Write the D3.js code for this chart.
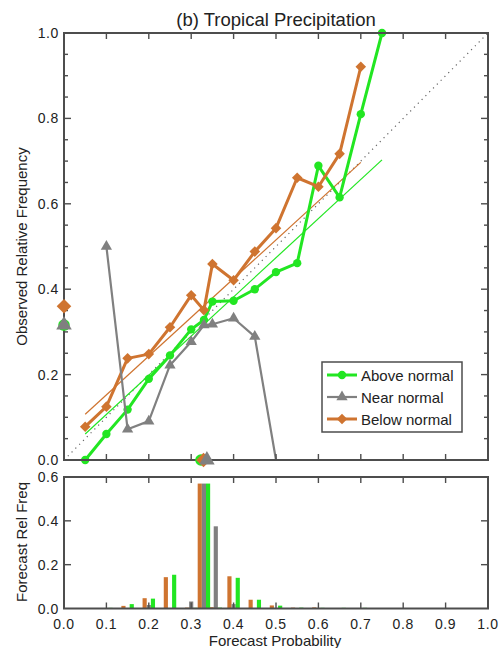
<!DOCTYPE html>
<html>
<head>
<meta charset="utf-8">
<script src="https://cdn.jsdelivr.net/npm/d3@7"></script>
<style>
  html, body { margin: 0; padding: 0; background: #fff; }
  svg text { font-family: "Liberation Sans", Arial, Helvetica, sans-serif; fill: #222; }
</style>
</head>
<body>
<svg id="chart" width="499" height="648"></svg>
<script>
// Forecast probability bins used by the reliability curves
const probBins = [0.05, 0.10, 0.15, 0.20, 0.25, 0.30, 0.33, 0.35, 0.40, 0.45, 0.50, 0.55, 0.60, 0.65, 0.70, 0.75];

// Observed relative frequency per bin (null = no forecasts in that bin)
const aboveObs = [0.0, 0.061, 0.118, 0.19, 0.245, 0.306, 0.328, 0.371, 0.373, 0.40, 0.44, 0.461, 0.689, 0.615, 0.81, 1.0];
const nearObs  = [null, 0.50, 0.072, 0.091, 0.222, 0.277, 0.316, 0.318, 0.332, 0.289, 0.0, null, null, null, null, null];
const belowObs = [0.078, 0.125, 0.238, 0.248, 0.311, 0.386, 0.351, 0.459, 0.421, 0.488, 0.543, 0.661, 0.64, 0.717, 0.921, null];

// Least-squares fit lines (endpoints in probability / frequency)
const aboveFit = [[0.05, 0.061], [0.75, 0.703]];
const belowFit = [[0.05, 0.107], [0.70, 0.697]];

// Climatology: observed frequency (y axis) and mean forecast probability (x axis)
const climObs  = { above: 0.316, near: 0.316, below: 0.36 };
const climProb = { above: 0.323, near: 0.337, below: 0.329 };

// Forecast relative frequency histogram
const histBins  = [0.05, 0.10, 0.15, 0.20, 0.25, 0.30, 0.33, 0.358, 0.40, 0.45, 0.50, 0.55, 0.60, 0.65, 0.70, 0.75];
const histAbove = [0, 0.003, 0.02, 0.045, 0.154, 0.003, 0.57, 0.004, 0.14, 0.04, 0.013, 0.004, 0.003, 0.003, 0.003, 0];
const histNear  = [0, 0, 0, 0.016, 0, 0.032, 0.57, 0.375, 0.02, 0, 0, 0, 0, 0, 0, 0];
const histBelow = [0, 0, 0.012, 0.047, 0.143, 0.004, 0.57, 0.006, 0.147, 0.04, 0.014, 0.004, 0.005, 0.002, 0, 0];

const xTicks = [0, 0.1, 0.2, 0.3, 0.4, 0.5, 0.6, 0.7, 0.8, 0.9, 1.0];
const yTicks = [0, 0.2, 0.4, 0.6, 0.8, 1.0];
const yMinorTicks = d3.range(0, 1.0001, 0.05);
const hTicks = [0, 0.2, 0.4, 0.6];

const seriesNames = ["Above normal", "Near normal", "Below normal"];
const colors = { above: "#22e622", near: "#808080", below: "#cf7430" };
const frameColor = "#4d4d4d";

const svg = d3.select("#chart");

const x  = d3.scaleLinear().domain([0, 1]).range([64, 488]);
const y  = d3.scaleLinear().domain([0, 1]).range([460, 33]);
const yh = d3.scaleLinear().domain([0, 0.6]).range([608.5, 477]);

// square diamond (equal width and height)
const squareDiamond = {
  draw(ctx, size) {
    const r = Math.sqrt(size / 2);
    ctx.moveTo(0, -r); ctx.lineTo(r, 0); ctx.lineTo(0, r); ctx.lineTo(-r, 0); ctx.closePath();
  }
};

const symType = { above: d3.symbolCircle, near: d3.symbolTriangle, below: squareDiamond };
const symSize = { above: 55, near: 55, below: 56 };
const sym = {};
const symBig = {};
Object.keys(symType).forEach(k => {
  sym[k] = d3.symbol().type(symType[k]).size(symSize[k]);
  symBig[k] = d3.symbol().type(symType[k]).size(symSize[k] * 1.9);
});

// ---------- title ----------
svg.append("text")
  .attr("x", 276).attr("y", 26)
  .attr("text-anchor", "middle")
  .attr("font-size", 18.5)
  .text("(b) Tropical Precipitation");

// ---------- reliability panel ----------
const main = svg.append("g");

// perfect reliability diagonal
main.append("line")
  .attr("x1", x(0)).attr("y1", y(0)).attr("x2", x(1)).attr("y2", y(1))
  .attr("stroke", "#666").attr("stroke-width", 1.2)
  .attr("stroke-dasharray", "1.2,4.2");

// fit lines
const fitLine = d3.line().x(d => x(d[0])).y(d => y(d[1]));
main.append("path").attr("d", fitLine(aboveFit))
  .attr("stroke", colors.above).attr("stroke-width", 1.2).attr("fill", "none");
main.append("path").attr("d", fitLine(belowFit))
  .attr("stroke", colors.below).attr("stroke-width", 1.2).attr("fill", "none");

const relLine = d3.line()
  .defined(d => d[1] !== null)
  .x(d => x(d[0])).y(d => y(d[1]));

const seriesList = [
  { key: "above", obs: aboveObs, width: 3 },
  { key: "below", obs: belowObs, width: 3 },
  { key: "near",  obs: nearObs,  width: 2.2 }
];

seriesList.forEach(s => {
  const pts = probBins.map((p, i) => [p, s.obs[i]]);
  main.append("path").attr("d", relLine(pts))
    .attr("stroke", colors[s.key]).attr("stroke-width", s.width)
    .attr("stroke-linejoin", "round").attr("fill", "none");
  // triangles resting on the bottom axis are hidden behind it
  const shown = pts.filter(d => d[1] !== null && !(s.key === "near" && d[1] === 0));
  main.selectAll(null).data(shown).join("path")
    .attr("d", sym[s.key])
    .attr("transform", d => `translate(${x(d[0])},${y(d[1])})`)
    .attr("fill", colors[s.key]);
});

// frame with inward x ticks on top and bottom
function frame(g, sy, ySpan) {
  g.append("rect")
    .attr("x", x(0)).attr("y", sy(ySpan))
    .attr("width", x(1) - x(0)).attr("height", sy(0) - sy(ySpan))
    .attr("fill", "none").attr("stroke", frameColor).attr("stroke-width", 2);
  xTicks.slice(1, -1).forEach(t => {
    g.append("line").attr("x1", x(t)).attr("x2", x(t))
      .attr("y1", sy(0)).attr("y2", sy(0) - 6)
      .attr("stroke", frameColor).attr("stroke-width", 1.4);
    g.append("line").attr("x1", x(t)).attr("x2", x(t))
      .attr("y1", sy(ySpan)).attr("y2", sy(ySpan) + 6)
      .attr("stroke", frameColor).attr("stroke-width", 1.4);
  });
}
frame(main, y, 1);

// minor / major y ticks on both sides
yMinorTicks.slice(1, -1).forEach(t => {
  const major = Math.abs(t * 5 - Math.round(t * 5)) < 1e-6;
  main.append("line").attr("x1", x(0)).attr("x2", x(0) + (major ? 7 : 4))
    .attr("y1", y(t)).attr("y2", y(t))
    .attr("stroke", frameColor).attr("stroke-width", 1.4);
  main.append("line").attr("x1", x(1)).attr("x2", x(1) - (major ? 7 : 4))
    .attr("y1", y(t)).attr("y2", y(t))
    .attr("stroke", frameColor).attr("stroke-width", 1.4);
});

main.selectAll(null).data(yTicks).join("text")
  .attr("x", 59).attr("y", d => y(d) + 5)
  .attr("text-anchor", "end").attr("font-size", 14)
  .attr("letter-spacing", 0.6)
  .text(d => d.toFixed(1));

main.append("text")
  .attr("transform", `translate(27,${(y(0) + y(1)) / 2}) rotate(-90)`)
  .attr("text-anchor", "middle").attr("font-size", 15)
  .text("Observed Relative Frequency");

// climatology markers on the axes
["above", "below", "near"].forEach(k => {
  main.append("path").attr("d", symBig[k])
    .attr("transform", `translate(${x(0)},${y(climObs[k])})`)
    .attr("fill", colors[k]);
});
["above", "below", "near"].forEach(k => {
  main.append("path").attr("d", symBig[k])
    .attr("transform", `translate(${x(climProb[k])},${y(0)})`)
    .attr("fill", colors[k]);
});

// legend
const legend = svg.append("g").attr("transform", "translate(322,362)");
legend.append("rect").attr("width", 140).attr("height", 70)
  .attr("fill", "#fff").attr("stroke", frameColor).attr("stroke-width", 1.5);
const legendKeys = ["above", "near", "below"];
legendKeys.forEach((k, i) => {
  const ly = 13 + i * 22;
  legend.append("line").attr("x1", 5).attr("x2", 35).attr("y1", ly).attr("y2", ly)
    .attr("stroke", colors[k]).attr("stroke-width", k === "near" ? 2.2 : 3);
  legend.append("path").attr("d", sym[k])
    .attr("transform", `translate(20,${ly})`).attr("fill", colors[k]);
  legend.append("text").attr("x", 39).attr("y", ly + 5.5)
    .attr("font-size", 15).text(seriesNames[i]);
});

// ---------- histogram panel ----------
const hist = svg.append("g");
const barW = 0.0098;
const barSets = [
  { key: "below", vals: histBelow, off: -0.0098 },
  { key: "near",  vals: histNear,  off: 0 },
  { key: "above", vals: histAbove, off: 0.0098 }
];
barSets.forEach(s => {
  hist.selectAll(null).data(histBins.map((b, i) => [b, s.vals[i]]).filter(d => d[1] > 0)).join("rect")
    .attr("x", d => x(d[0] + s.off - barW / 2))
    .attr("width", x(barW) - x(0))
    .attr("y", d => yh(d[1]))
    .attr("height", d => yh(0) - yh(d[1]))
    .attr("fill", colors[s.key]);
});

frame(hist, yh, 0.6);
hTicks.slice(1, -1).forEach(t => {
  hist.append("line").attr("x1", x(0)).attr("x2", x(0) + 7)
    .attr("y1", yh(t)).attr("y2", yh(t))
    .attr("stroke", frameColor).attr("stroke-width", 1.4);
  hist.append("line").attr("x1", x(1)).attr("x2", x(1) - 7)
    .attr("y1", yh(t)).attr("y2", yh(t))
    .attr("stroke", frameColor).attr("stroke-width", 1.4);
});

hist.selectAll(null).data(hTicks).join("text")
  .attr("x", 59).attr("y", d => yh(d) + 5)
  .attr("text-anchor", "end").attr("font-size", 14)
  .attr("letter-spacing", 0.6)
  .text(d => d.toFixed(1));

hist.selectAll(null).data(xTicks).join("text")
  .attr("x", d => x(d)).attr("y", 629)
  .attr("text-anchor", "middle").attr("font-size", 14)
  .attr("letter-spacing", 0.6)
  .text(d => d.toFixed(1));

hist.append("text")
  .attr("transform", `translate(27,542) rotate(-90)`)
  .attr("text-anchor", "middle").attr("font-size", 15)
  .text("Forecast Rel Freq");

svg.append("text")
  .attr("x", 275).attr("y", 646)
  .attr("text-anchor", "middle").attr("font-size", 15)
  .text("Forecast Probability");
</script>
</body>
</html>
